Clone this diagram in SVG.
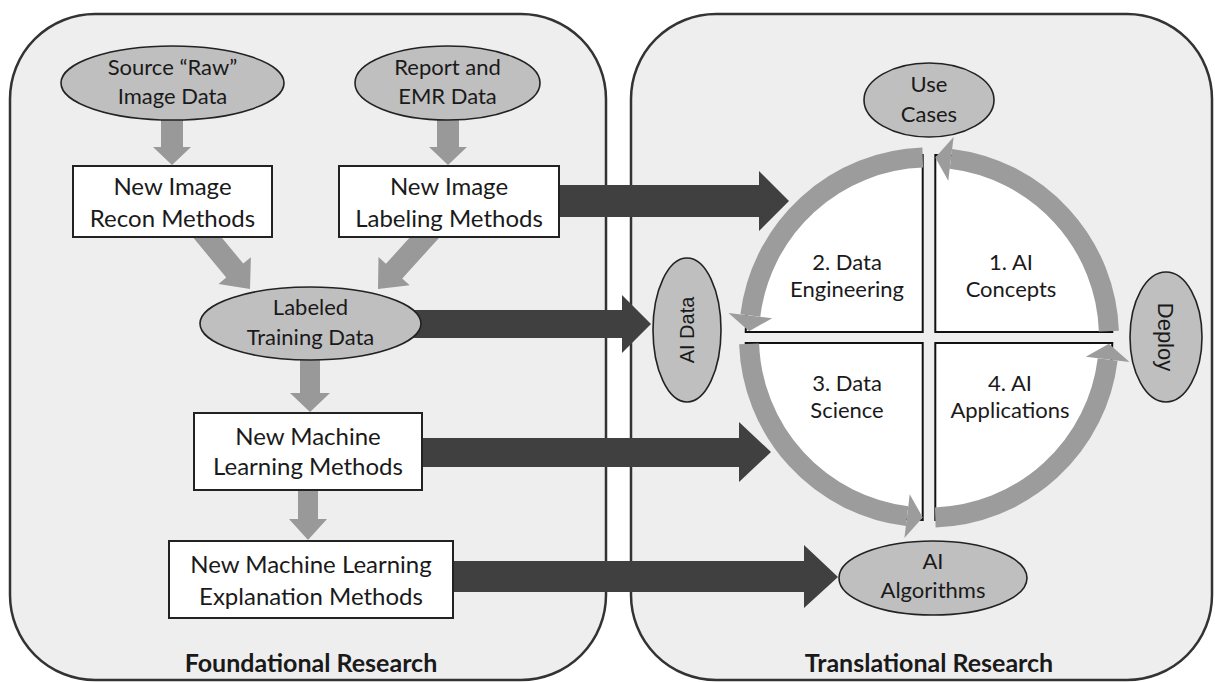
<svg xmlns="http://www.w3.org/2000/svg" width="1215" height="682" viewBox="0 0 1215 682">
<style>
.panel{fill:#eeeeee;stroke:#333333;stroke-width:2.5}
.ell{fill:#bfbfbf;stroke:#222222;stroke-width:1.6}
.box{fill:#ffffff;stroke:#222222;stroke-width:2}
.quad{fill:#ffffff;stroke:#111111;stroke-width:2}
.ga{fill:#999999;stroke:none}
.da{fill:#404040;stroke:none}
.band{fill:none;stroke:#9c9c9c;stroke-width:20;stroke-linecap:butt}
.head{fill:#9c9c9c;stroke:none}
text{font-family:Lato,"Liberation Sans",sans-serif;fill:#1a1a1a;text-anchor:middle}
.t24{font-size:24px}
.t22{font-size:22px}
.ar{font-family:"Liberation Sans",Arial,sans-serif}
.bold{font-size:25px;font-weight:bold}
</style>
<rect width="1215" height="682" fill="#ffffff"/>
<g id="panel-foundational">
<rect class="panel" x="10" y="14" width="596" height="666" rx="85" ry="85"/>
<text class="bold" x="311" y="672">Foundational Research</text>
</g>
<g id="panel-translational">
<rect class="panel" x="631" y="14" width="581" height="666" rx="85" ry="85"/>
<text class="bold" x="929" y="672">Translational Research</text>
</g>
<g id="connectors">
<polygon class="ga" points="161,112 183,112 183,147 191,147 172,165 153,147 161,147"/>
<polygon class="ga" points="437,112 459,112 459,147 467,147 448,165 429,147 437,147"/>
<polygon class="ga" points="207.83,220.74 243.19,263.5 250.89,257.13 250,289 218.53,283.89 226.23,277.52 190.87,234.76"/>
<polygon class="ga" points="441.21,235.48 402.25,278.57 409.67,285.27 378,289 378.51,257.11 385.93,263.81 424.89,220.72"/>
<polygon class="ga" points="300,352 320,352 320,393 330,393 310,412 290,393 300,393"/>
<polygon class="ga" points="298,486 318,486 318,519 327,519 308,540 289,519 298,519"/>
<polygon class="da" points="555,185 759,185 759,171 789,201 759,231 759,217 555,217"/>
<polygon class="da" points="410,310 622,310 622,295 651,324 622,353 622,338 410,338"/>
<polygon class="da" points="418,438 739,438 739,422 771,452 739,482 739,467 418,467"/>
<polygon class="da" points="448,561 804,561 804,545 838,577 804,608 804,592 448,592"/>
</g>
<g id="source-raw">
<ellipse class="ell" cx="172.5" cy="83" rx="111.5" ry="37"/>
<text class="t22" x="172.5" y="75">Source “Raw”</text>
<text class="t22" x="172.5" y="104">Image Data</text>
</g>
<g id="report-emr">
<ellipse class="ell" cx="447.5" cy="83" rx="92.5" ry="37"/>
<text class="t22" x="447.5" y="75">Report and</text>
<text class="t22" x="447.5" y="104">EMR Data</text>
</g>
<g id="recon-methods">
<rect class="box" x="73" y="166" width="199" height="71"/>
<text class="t24" x="172.5" y="195">New Image</text>
<text class="t24" x="172.5" y="227">Recon Methods</text>
</g>
<g id="labeling-methods">
<rect class="box" x="339" y="166" width="220" height="71"/>
<text class="t24" x="449" y="195">New Image</text>
<text class="t24" x="449" y="227">Labeling Methods</text>
</g>
<g id="labeled-training">
<ellipse class="ell" cx="310.5" cy="323.5" rx="110.5" ry="36.5"/>
<text class="t22" x="310.5" y="315">Labeled</text>
<text class="t22" x="310.5" y="345">Training Data</text>
</g>
<g id="ml-methods">
<rect class="box" x="194" y="413" width="228" height="77"/>
<text class="t24" x="308" y="445">New Machine</text>
<text class="t24" x="308" y="475">Learning Methods</text>
</g>
<g id="ml-explanation">
<rect class="box" x="169" y="541" width="284" height="77"/>
<text class="t24" x="311" y="573">New Machine Learning</text>
<text class="t24" x="311" y="605">Explanation Methods</text>
</g>
<g id="cycle">
<path class="quad" d="M922.7,332 H745.7 A177,177 0 0 1 922.7,155 Z"/>
<path class="quad" d="M935.3,332 V155 A177,177 0 0 1 1112.3,332 Z"/>
<path class="quad" d="M922.7,343 V520 A177,177 0 0 1 745.7,343 Z"/>
<path class="quad" d="M935.3,343 H1112.3 A177,177 0 0 1 935.3,520 Z"/>
<path class="band" d="M1108.89,331.22 A180,180 0 0 0 950.94,158.84"/>
<polygon class="head" points="948.26,180.68 953.62,137 935.28,157.61"/>
<path class="band" d="M922.72,157.61 A180,180 0 0 0 750.34,315.56"/>
<polygon class="head" points="772.18,318.24 728.5,312.88 749.11,331.22"/>
<path class="band" d="M749.11,343.78 A180,180 0 0 0 907.06,516.16"/>
<polygon class="head" points="909.74,494.32 904.38,538 922.72,517.39"/>
<path class="band" d="M935.28,517.39 A180,180 0 0 0 1107.66,359.44"/>
<polygon class="head" points="1085.82,356.76 1129.5,362.12 1108.89,343.78"/>
</g>
<g id="q1-ai-concepts">
<text class="t22" x="1011" y="270">1. AI</text>
<text class="t22" x="1011" y="297">Concepts</text>
</g>
<g id="q2-data-engineering">
<text class="t22" x="847" y="270">2. Data</text>
<text class="t22" x="847" y="297">Engineering</text>
</g>
<g id="q3-data-science">
<text class="t22" x="847" y="391">3. Data</text>
<text class="t22" x="847" y="418">Science</text>
</g>
<g id="q4-ai-applications">
<text class="t22" x="1010" y="391">4. AI</text>
<text class="t22" x="1010" y="418">Applications</text>
</g>
<g id="use-cases">
<ellipse class="ell" cx="929" cy="100" rx="65" ry="37"/>
<text class="t22" x="929" y="92">Use</text>
<text class="t22" x="929" y="122">Cases</text>
</g>
<g id="ai-data">
<ellipse class="ell" cx="687" cy="330" rx="34" ry="72"/>
<text class="ar" font-size="20" x="0" y="0" transform="translate(694,330) rotate(-90)">AI Data</text>
</g>
<g id="deploy">
<ellipse class="ell" cx="1166" cy="337" rx="36" ry="65"/>
<text class="ar" font-size="22" x="0" y="0" transform="translate(1158,337) rotate(90)">Deploy</text>
</g>
<g id="ai-algorithms">
<ellipse class="ell" cx="933" cy="578" rx="94" ry="37"/>
<text class="t22" x="933" y="569">AI</text>
<text class="t22" x="933" y="598">Algorithms</text>
</g>
</svg>
